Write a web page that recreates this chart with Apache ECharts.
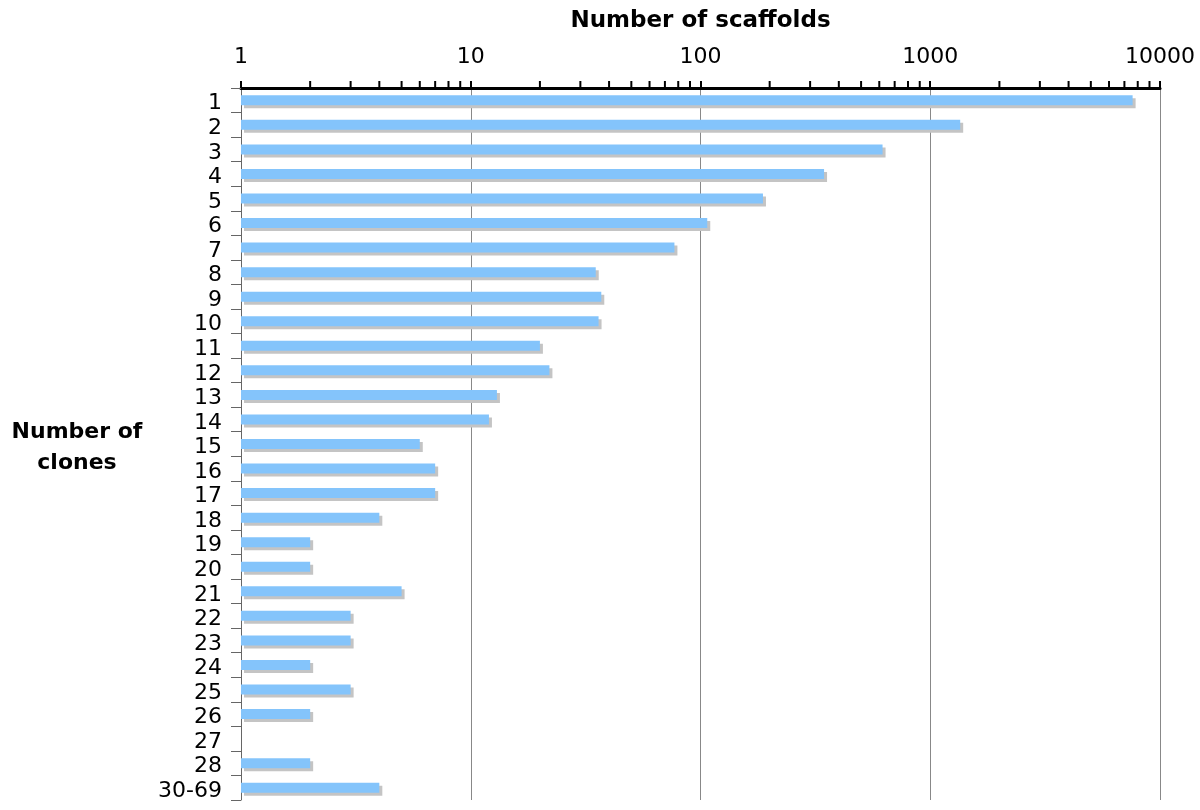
<!DOCTYPE html>
<html>
<head>
<meta charset="utf-8">
<script src="https://cdn.jsdelivr.net/npm/echarts@6/dist/echarts.min.js"></script>
<style>html,body{margin:0;padding:0;background:#fff}#c{width:1200px;height:810px}</style>
</head>
<body>
<div id="c"></div>
<script>
const categories = ['1','2','3','4','5','6','7','8','9','10','11','12','13','14','15','16','17','18','19','20','21','22','23','24','25','26','27','28','30-69'];
const scaffolds = [7600,1350,620,345,187,107,77,35,37,36,20,22,13,12,6,7,7,4,2,2,5,3,3,2,3,2,null,2,4];
const minorTickValues = [2,3,4,5,6,7,8,9,20,30,40,50,60,70,80,90,200,300,400,500,600,700,800,900,2000,3000,4000,5000,6000,7000,8000,9000];

const FONT = 'DejaVu Sans';
const chart = echarts.init(document.getElementById('c'));
chart.setOption({
  animation: false,
  backgroundColor: '#fff',
  grid: { left: 241, right: 40, top: 88, bottom: 10, containLabel: false, outerBoundsMode: 'none' },
  xAxis: {
    type: 'log', position: 'top', min: 1, max: 10000, logBase: 10,
    name: 'Number of scaffolds', nameLocation: 'middle', nameGap: 55,
    nameTextStyle: { fontFamily: FONT, fontSize: 23, fontWeight: 'bold', color: '#000' },
    axisLine: { show: true, lineStyle: { color: '#000', width: 3 } },
    axisTick: { show: true, length: 7, lineStyle: { color: '#000', width: 2 } },
    axisLabel: { fontFamily: FONT, fontSize: 22, color: '#000', margin: 20, formatter: v => String(Math.round(v)) },
    splitLine: { show: true, lineStyle: { color: '#888', width: 1 } }
  },
  yAxis: {
    type: 'category', data: categories, inverse: true,
    name: '{s| }\n{b|Number of}\n{b|clones}', nameLocation: 'middle', nameRotate: 0, nameGap: 164,
    nameTextStyle: {
      fontFamily: FONT, fontSize: 22, fontWeight: 'bold', color: '#000', align: 'center',
      rich: {
        s: { fontSize: 6, lineHeight: 7, align: 'center' },
        b: { fontFamily: FONT, fontSize: 22, fontWeight: 'bold', color: '#000', lineHeight: 31, align: 'center' }
      }
    },
    axisLine: { show: true, lineStyle: { color: '#666', width: 1 } },
    axisTick: { show: true, length: 10, interval: 0, lineStyle: { color: '#666', width: 1 } },
    axisLabel: { fontFamily: FONT, fontSize: 22, color: '#000', margin: 19, interval: 0, verticalAlign: 'top', lineHeight: 7 },
    splitLine: { show: false }
  },
  series: [
    {
      type: 'bar', data: scaffolds, barWidth: 10,
      itemStyle: { color: '#84C4FB', shadowColor: '#c4c4c4', shadowBlur: 0, shadowOffsetX: 3, shadowOffsetY: 3 }
    },
    {
      type: 'custom', silent: true, clip: false, z: 10,
      data: minorTickValues.map(v => [v, 0]),
      renderItem: function (params, api) {
        const p = api.coord([api.value(0), 0]);
        const top = params.coordSys.y;
        return { type: 'line', shape: { x1: p[0], y1: top, x2: p[0], y2: top - 7 }, style: { stroke: '#000', lineWidth: 2 } };
      }
    }
  ]
});
</script>
</body>
</html>
